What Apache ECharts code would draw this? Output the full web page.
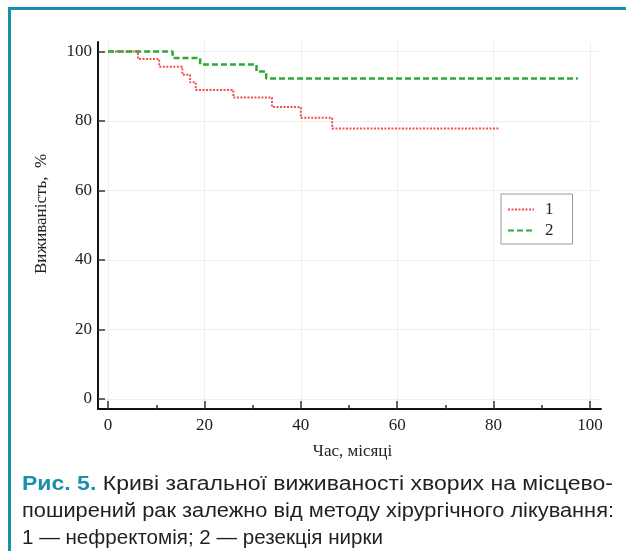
<!DOCTYPE html>
<html>
<head>
<meta charset="utf-8">
<script src="https://cdn.jsdelivr.net/npm/echarts@6/dist/echarts.min.js"></script>
<style>
  html, body { margin: 0; padding: 0; background: #fff; }
  #wrap { position: relative; width: 626px; height: 551px; overflow: hidden; background: #fff; }
  #frame { position: absolute; left: 8px; top: 7px; width: 640px; height: 600px;
           border-top: 3px solid #1791ab; border-left: 3px solid #1791ab; box-sizing: border-box; }
  #chart { position: absolute; left: 0; top: 0; width: 626px; height: 551px; }
  .cap { position: absolute; left: 22px; font-family: "Liberation Sans", Arial, sans-serif;
         font-size: 20px; line-height: 26px; color: #231f20; white-space: nowrap;
         transform-origin: 0 50%; }
  .cap b { color: #1791ab; }
</style>
</head>
<body>
<div id="wrap">
  <div id="frame"></div>
  <div id="chart"></div>
  <div class="cap" id="c1" data-w="591" style="top:470px"><b>Рис. 5.</b> Криві загальної виживаності хворих на місцево-</div>
  <div class="cap" id="c2" data-w="592" style="top:497px">поширений рак залежно від методу хірургічного лікування:</div>
  <div class="cap" id="c3" data-w="361" style="top:524px">1 — нефректомія; 2 — резекція нирки</div>
</div>
<script>
// ---- data ----
var seriesNames = ['1', '2'];
var nephTimes = [0, 6.2, 10.6, 15.4, 17.0, 18.2, 26.0, 34.0, 40.0, 46.5, 81.3];
var nephSurv  = [100, 97.8, 95.6, 93.3, 91.1, 88.9, 86.7, 84.0, 80.9, 77.8, 77.8];
var resTimes  = [0, 13.4, 19.1, 30.8, 32.8, 97.5];
var resSurv   = [100, 98.1, 96.2, 94.2, 92.2, 92.2];
var xMajorTicks = [0, 20, 40, 60, 80, 100];
var xMinorTicks = [10, 30, 50, 70, 90];
var yTicks = [0, 20, 40, 60, 80, 100];
var xTitle = 'Час, місяці';
var yTitle = 'Виживаність,  %';

function pairs(t, s) { return t.map(function (v, i) { return [v, s[i]]; }); }

var serif = '"Liberation Serif", "Times New Roman", serif';
var chart = echarts.init(document.getElementById('chart'), null, { renderer: 'canvas' });
chart.setOption({
  backgroundColor: 'transparent',
  animation: false,
  grid: { left: 98, right: 25, top: 42, bottom: 142, containLabel: false },
  legend: {
    orient: 'vertical', left: 501, top: 194,
    itemWidth: 26, itemHeight: 10, itemGap: 4,
    padding: [7, 19, 5, 6],
    borderColor: '#999', borderWidth: 1, backgroundColor: '#fff',
    itemStyle: { opacity: 0 },
    textStyle: { fontFamily: serif, fontSize: 17, color: '#222', padding: [0, 0, 0, 6] },
    data: seriesNames
  },
  graphic: [{
    type: 'text', x: 42, y: 214, rotation: Math.PI / 2,
    style: { text: yTitle, fontFamily: serif, fontSize: 17, fill: '#222',
             align: 'center', verticalAlign: 'middle' }
  }],
  xAxis: [{
    type: 'value', min: -2.1, max: 102.3,
    axisLine: { show: true, onZero: false, lineStyle: { color: '#111', width: 2 } },
    axisTick: { show: true, inside: true, length: 8, customValues: xMajorTicks, lineStyle: { color: '#333', width: 1.5 } },
    axisLabel: { customValues: xMajorTicks, margin: 8, fontFamily: serif, fontSize: 17, color: '#222' },
    splitLine: { show: true, lineStyle: { color: '#eeeeee', width: 1 } },
    name: xTitle, nameLocation: 'middle', nameGap: 34,
    nameTextStyle: { fontFamily: serif, fontSize: 17, color: '#222', padding: [0, 0, 0, 6] }
  }, {
    type: 'value', min: -2.1, max: 102.3, position: 'bottom', offset: 0,
    axisLine: { show: false, onZero: false },
    axisTick: { show: true, inside: true, length: 4, customValues: xMinorTicks, lineStyle: { color: '#333', width: 1.5 } },
    axisLabel: { show: false },
    splitLine: { show: false }
  }],
  yAxis: {
    type: 'value', min: -2.9, max: 102.7,
    axisLine: { show: true, onZero: false, lineStyle: { color: '#111', width: 2 } },
    axisTick: { show: true, inside: true, length: 7, customValues: yTicks, lineStyle: { color: '#333', width: 1.5 } },
    axisLabel: { customValues: yTicks, margin: 6, fontFamily: serif, fontSize: 17, color: '#222' },
    splitLine: { show: true, lineStyle: { color: '#eeeeee', width: 1 } }
  },
  series: [{
    name: seriesNames[0], type: 'line', step: 'end', symbol: 'none',
    data: pairs(nephTimes, nephSurv),
    itemStyle: { color: '#f0504a' },
    lineStyle: { color: '#f0504a', width: 2, type: [2, 1.5] }
  }, {
    name: seriesNames[1], type: 'line', step: 'end', symbol: 'none',
    data: pairs(resTimes, resSurv),
    itemStyle: { color: '#2ea836' },
    lineStyle: { color: '#2ea836', width: 2.5, type: [6, 3] }
  }]
});

// fit caption lines to their widths in the reference
['c1', 'c2', 'c3'].forEach(function (id) {
  var el = document.getElementById(id);
  var w = el.getBoundingClientRect().width;
  var target = parseFloat(el.getAttribute('data-w'));
  el.style.transform = 'scaleX(' + (target / w) + ')';
});
</script>
</body>
</html>
